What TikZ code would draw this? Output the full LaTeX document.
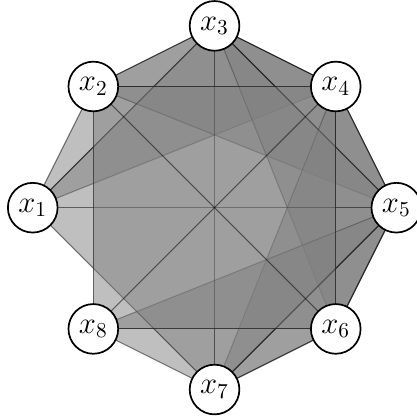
\documentclass[tikz,border=0pt]{standalone}
\pgfdeclarelayer{bg}
\pgfsetlayers{bg,main}
\begin{document}
\begin{tikzpicture}[
  vtx/.style={circle, draw=black, line width=0.8pt, fill=white, minimum size=0.82cm, inner sep=0pt, font=\Large},
  hull/.style={fill=gray, fill opacity=0.5},
  hedge/.style={draw=black, draw opacity=0.5, line width=0.5pt}
]
\useasboundingbox (-3.54,-3.47) rectangle (3.325,3.427);
\node[vtx] (x1) at (-3,0) {$x_1$};
\node[vtx] (x2) at (-2,2) {$x_2$};
\node[vtx] (x3) at (0,3) {$x_3$};
\node[vtx] (x4) at (2,2) {$x_4$};
\node[vtx] (x5) at (3,0) {$x_5$};
\node[vtx] (x6) at (2,-2) {$x_6$};
\node[vtx] (x7) at (0,-3) {$x_7$};
\node[vtx] (x8) at (-2,-2) {$x_8$};
\begin{pgfonlayer}{bg}
% each hyperedge: filled convex hull, then all pairs of its vertices
\foreach \a/\b/\c/\d in {1/2/3/4, 2/3/4/5, 3/4/5/6, 4/5/6/7, 5/6/7/8, 1/3/5/7, 2/4/6/8}{
  \fill[hull] (x\a.center) -- (x\b.center) -- (x\c.center) -- (x\d.center) -- cycle;
  \draw[hedge] (x\a.center) -- (x\b.center);
  \draw[hedge] (x\b.center) -- (x\c.center);
  \draw[hedge] (x\c.center) -- (x\d.center);
  \draw[hedge] (x\d.center) -- (x\a.center);
  \draw[hedge] (x\a.center) -- (x\c.center);
  \draw[hedge] (x\b.center) -- (x\d.center);
}
\end{pgfonlayer}
\end{tikzpicture}
\end{document}
